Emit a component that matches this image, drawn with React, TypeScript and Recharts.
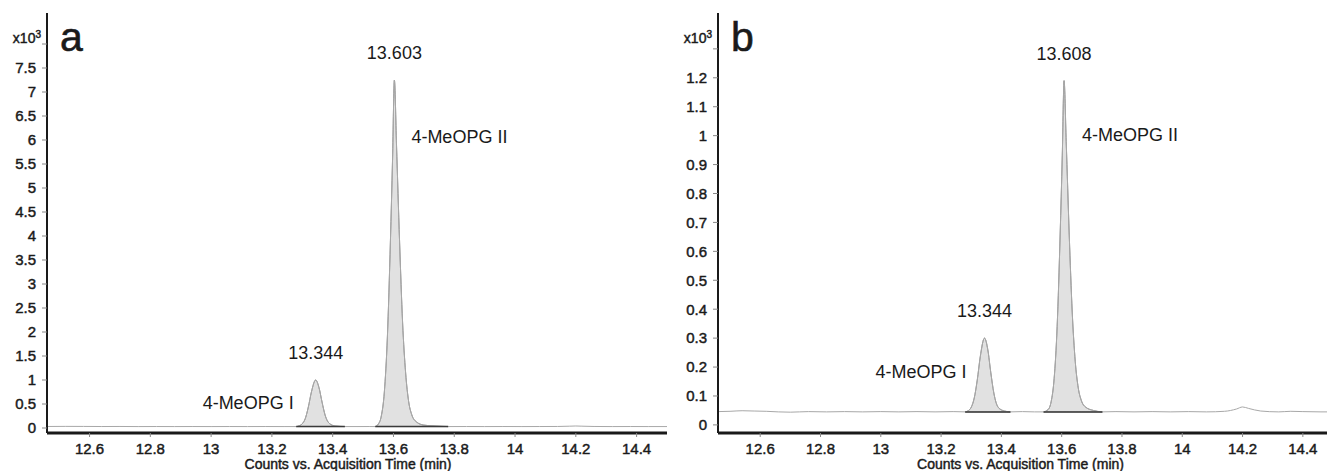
import { ComposedChart, Line, Area, XAxis, YAxis, ReferenceDot } from "recharts";

// chromatogram traces, counts in units of 10^3
const timeA = [
  12.46, 12.52, 12.58, 12.64, 12.7, 12.76, 12.82, 12.88, 12.94, 13.0, 13.06, 13.12, 13.18, 13.24,
  13.28, 13.29, 13.3, 13.31, 13.32, 13.33, 13.344, 13.355, 13.365, 13.375, 13.39, 13.41, 13.44,
  13.48, 13.52,
  13.54, 13.55, 13.56, 13.57, 13.58, 13.59, 13.597, 13.603, 13.61, 13.62, 13.63, 13.64, 13.65, 13.66,
  13.675, 13.7, 13.74, 13.78,
  13.84, 13.9, 13.96, 14.02, 14.08, 14.14, 14.18, 14.2, 14.22, 14.26, 14.32, 14.38, 14.44, 14.5,
];
const signalA = [
  0.032, 0.034, 0.033, 0.031, 0.032, 0.03, 0.031, 0.03, 0.031, 0.03, 0.031, 0.03, 0.031, 0.03,
  0.03, 0.045, 0.09, 0.2, 0.44, 0.75, 1.0, 0.84, 0.54, 0.27, 0.09, 0.04, 0.03,
  0.03, 0.031,
  0.03, 0.08, 0.25, 0.75, 1.9, 3.9, 5.6, 7.25, 5.9, 3.9, 2.2, 1.15, 0.55, 0.28,
  0.13, 0.06, 0.04, 0.03,
  0.031, 0.03, 0.031, 0.03, 0.031, 0.032, 0.038, 0.042, 0.038, 0.032, 0.03, 0.031, 0.03, 0.03,
];

const timeB = [
  12.46, 12.5, 12.54, 12.58, 12.62, 12.66, 12.7, 12.76, 12.82, 12.88, 12.94, 13.0, 13.06, 13.12, 13.18, 13.24,
  13.28, 13.29, 13.3, 13.31, 13.32, 13.33, 13.344, 13.355, 13.365, 13.375, 13.39, 13.41, 13.43,
  13.47, 13.51,
  13.54, 13.555, 13.565, 13.575, 13.585, 13.595, 13.602, 13.608, 13.615, 13.625, 13.635, 13.645, 13.655,
  13.665, 13.68, 13.705, 13.735,
  13.78, 13.84, 13.9, 13.96, 14.02, 14.08, 14.14, 14.18, 14.2, 14.22, 14.26, 14.32, 14.36, 14.4, 14.46, 14.5,
];
const signalB = [
  0.046, 0.047, 0.049, 0.048, 0.047, 0.045, 0.044, 0.046, 0.045, 0.046, 0.045, 0.046, 0.045, 0.046, 0.045, 0.046,
  0.045, 0.049, 0.061, 0.093, 0.155, 0.236, 0.3, 0.26, 0.18, 0.11, 0.06, 0.048, 0.045,
  0.046, 0.045,
  0.045, 0.053, 0.08, 0.16, 0.34, 0.66, 0.93, 1.19, 0.98, 0.66, 0.39, 0.22, 0.128,
  0.085, 0.061, 0.05, 0.045,
  0.046, 0.045, 0.046, 0.045, 0.046, 0.045, 0.047, 0.055, 0.062, 0.057, 0.048, 0.045, 0.047, 0.046, 0.045, 0.045,
];

// integration windows and their baselines
const windowsA = [[13.28, 13.44], [13.54, 13.78]];
const basesA = [0.03, 0.03];
const windowsB = [[13.28, 13.43], [13.54, 13.735]];
const basesB = [0.045, 0.045];

// peak annotations
const peakTimesA = [13.344, 13.603];
const peakHeightsA = [1.0, 7.25];
const peakTimesB = [13.344, 13.608];
const peakHeightsB = [0.3, 1.19];
const rtLabelsA = ["13.344", "13.603"];
const rtLabelsB = ["13.344", "13.608"];
const peakNames = ["4-MeOPG I", "4-MeOPG II"];

const xTicks = [12.6, 12.8, 13, 13.2, 13.4, 13.6, 13.8, 14, 14.2, 14.4];
const yTicksA = [0, 0.5, 1, 1.5, 2, 2.5, 3, 3.5, 4, 4.5, 5, 5.5, 6, 6.5, 7, 7.5, 8];
const yTicksB = [0, 0.1, 0.2, 0.3, 0.4, 0.5, 0.6, 0.7, 0.8, 0.9, 1, 1.1, 1.2, 1.3];

const FONT = "'Liberation Sans', Arial, Helvetica, sans-serif";
const INK = "#1a1a1a";
// axis text in the original is a touch heavier than regular
const heavy = { stroke: INK, strokeWidth: 0.45 };

function buildRows(time: number[], signal: number[], windows: number[][], bases: number[]) {
  return time.map((t, i) => {
    const w = windows.findIndex(([s, e]) => t >= s - 1e-9 && t <= e + 1e-9);
    return {
      t,
      signal: signal[i],
      fill: w >= 0 ? [bases[w], signal[i]] : null,
      integ: w >= 0 ? bases[w] : null,
    };
  });
}

function YTick(props: any) {
  const { x, y, payload, top, supDy } = props;
  if (payload.value === top) {
    return (
      <text x={x + 5} y={y + supDy} dy="0.35em" textAnchor="end" fontFamily={FONT} fontSize={14} fill={INK} {...heavy}>
        x10<tspan dy={-5} fontSize={10}>3</tspan>
      </text>
    );
  }
  return (
    <text x={x} y={y} dy="0.355em" textAnchor="end" fontFamily={FONT} fontSize={15} fill={INK} {...heavy}>
      {String(payload.value)}
    </text>
  );
}

function XTick(props: any) {
  const { x, y, payload } = props;
  return (
    <text x={x} y={y} dy="0.75em" textAnchor="middle" fontFamily={FONT} fontSize={15} fill={INK} {...heavy}>
      {String(payload.value)}
    </text>
  );
}

interface PanelProps {
  left: number;
  width: number;
  marginRight: number;
  letter: string;
  time: number[];
  signal: number[];
  windows: number[][];
  bases: number[];
  yDomain: [number, number];
  yTicks: number[];
  supDy: number;
  titleDx: number;
  peakTimes: number[];
  peakHeights: number[];
  rtLabels: string[];
  nameOffsets: { dx: number; dy: number; anchor: "start" | "end" }[];
}

function Panel(p: PanelProps) {
  const rows = buildRows(p.time, p.signal, p.windows, p.bases);
  const top = p.yTicks[p.yTicks.length - 1];
  return (
    <div style={{ position: "absolute", left: p.left, top: 0 }}>
      <ComposedChart
        width={p.width}
        height={471}
        data={rows}
        margin={{ top: 13, right: p.marginRight, bottom: 0, left: 0 }}
      >
        <XAxis
          dataKey="t"
          type="number"
          domain={[12.46, 14.5]}
          ticks={xTicks}
          allowDataOverflow
          height={38}
          tickSize={4}
          tickMargin={6}
          tick={<XTick />}
          tickLine={{ stroke: "#888" }}
          axisLine={{ stroke: INK, strokeWidth: 3 }}
          label={{
            value: "Counts vs. Acquisition Time (min)",
            position: "insideBottom",
            offset: 2,
            dx: p.titleDx,
            fill: INK,
            fontSize: 14,
            fontFamily: FONT,
            ...heavy,
          }}
        />
        <XAxis
          xAxisId="top"
          dataKey="t"
          type="number"
          domain={[12.46, 14.5]}
          orientation="top"
          height={0}
          tick={false}
          tickLine={false}
          axisLine={{ stroke: INK, strokeWidth: 2 }}
        />
        <YAxis
          type="number"
          domain={p.yDomain}
          ticks={p.yTicks}
          allowDataOverflow
          width={47}
          tickSize={5}
          tickMargin={6}
          interval={0}
          tick={<YTick top={top} supDy={p.supDy} />}
          tickLine={{ stroke: "#888" }}
          axisLine={{ stroke: INK, strokeWidth: 2 }}
        />
        <YAxis
          yAxisId="right"
          orientation="right"
          width={0}
          tick={false}
          tickLine={false}
          axisLine={{ stroke: INK, strokeWidth: 2 }}
        />
        <Line
          dataKey="signal"
          type="monotone"
          stroke="#a8a8a8"
          strokeWidth={1}
          dot={false}
          activeDot={false}
          isAnimationActive={false}
        />
        <Area
          dataKey="fill"
          type="monotone"
          fill="#e1e1e1"
          fillOpacity={1}
          stroke="#8c8c8c"
          strokeWidth={1}
          dot={false}
          activeDot={false}
          isAnimationActive={false}
        />
        <Line
          dataKey="integ"
          type="linear"
          stroke="#3a3a3a"
          strokeWidth={1.5}
          dot={false}
          activeDot={false}
          isAnimationActive={false}
        />
        {p.peakTimes.map((t, i) => (
          <ReferenceDot
            key={t}
            x={t}
            y={p.peakHeights[i]}
            r={0}
            fill="none"
            stroke="none"
            label={(lp: any) => {
              const vb = lp.viewBox || {};
              const cx = vb.x + (vb.width || 0) / 2;
              const cy = vb.y + (vb.height || 0) / 2;
              const o = p.nameOffsets[i];
              return (
                <g>
                  <text x={cx} y={cy - 27} dy="0.35em" textAnchor="middle" fontFamily={FONT} fontSize={18} fill={INK}>
                    {p.rtLabels[i]}
                  </text>
                  <text x={cx + o.dx} y={cy + o.dy} dy="0.35em" textAnchor={o.anchor} fontFamily={FONT} fontSize={18} fill={INK}>
                    {peakNames[i]}
                  </text>
                </g>
              );
            }}
          />
        ))}
      </ComposedChart>
      <div
        style={{
          position: "absolute",
          left: 60,
          top: 17,
          fontFamily: FONT,
          fontSize: 41,
          lineHeight: "41px",
          color: INK,
          WebkitTextStroke: "0.6px " + INK,
        }}
      >
        {p.letter}
      </div>
    </div>
  );
}

export default function App() {
  return (
    <div
      style={{
        position: "absolute",
        left: 0,
        top: 0,
        width: 1327,
        height: 471,
        overflow: "hidden",
        background: "#fff",
      }}
    >
      <Panel
        left={0}
        width={680}
        marginRight={13}
        letter="a"
        time={timeA}
        signal={signalA}
        windows={windowsA}
        bases={basesA}
        yDomain={[-0.104, 8.646]}
        yTicks={yTicksA}
        supDy={-6}
        titleDx={-9}
        peakTimes={peakTimesA}
        peakHeights={peakHeightsA}
        rtLabels={rtLabelsA}
        nameOffsets={[
          { dx: -22, dy: 23, anchor: "end" },
          { dx: 17, dy: 57, anchor: "start" },
        ]}
      />
      <Panel
        left={671}
        width={662}
        marginRight={0}
        letter="b"
        time={timeB}
        signal={signalB}
        windows={windowsB}
        bases={basesB}
        yDomain={[-0.028, 1.424]}
        yTicks={yTicksB}
        supDy={-11}
        titleDx={-5}
        peakTimes={peakTimesB}
        peakHeights={peakHeightsB}
        rtLabels={rtLabelsB}
        nameOffsets={[
          { dx: -18, dy: 34, anchor: "end" },
          { dx: 18, dy: 54, anchor: "start" },
        ]}
      />
    </div>
  );
}
